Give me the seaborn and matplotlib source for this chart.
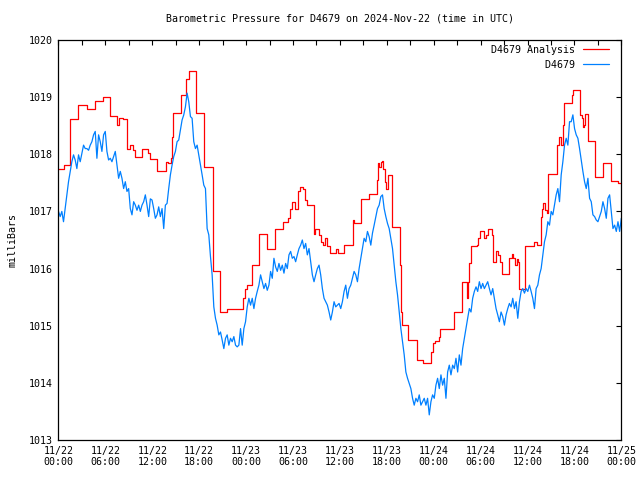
import pandas as pd
import matplotlib
matplotlib.use("Agg")
import matplotlib.pyplot as plt
import matplotlib.dates as mdates
import seaborn as sns

start = pd.Timestamp("2024-11-22 00:00")
end = pd.Timestamp("2024-11-25 00:00")

# analysis series (stepped): hours after start and pressure in mb
analysis_hours = [0.0, 0.70, 1.51, 2.54, 3.69, 4.67, 5.65, 6.63, 7.44, 7.74, 8.29, 8.72, 9.15,
                  9.49, 9.79, 10.72, 11.41, 11.70, 12.56, 13.71, 14.05, 14.35, 14.56, 14.69,
                  15.63, 16.31, 16.74, 17.55, 18.66, 19.72, 20.66, 21.60, 23.56, 23.86, 24.07,
                  24.71, 25.65, 26.63, 27.70, 28.68, 29.32, 29.61, 29.83, 30.25, 30.68, 30.89,
                  31.32, 31.53, 31.75, 32.68, 32.81, 33.32, 33.58, 33.79, 34.09, 34.30, 34.73,
                  35.46, 35.80, 36.52, 36.86, 37.72, 37.80, 38.65, 39.76, 40.70, 40.83, 41.04,
                  41.21, 41.38, 41.55, 41.77, 41.90, 42.11, 42.62, 43.69, 43.81, 43.94, 44.75,
                  45.82, 46.67, 47.69, 47.95, 48.16, 48.68, 48.80, 50.64, 51.66, 52.21, 52.43,
                  52.56, 52.73, 53.49, 53.71, 53.92, 54.43, 54.69, 54.99, 55.41, 55.63, 55.97,
                  56.27, 56.48, 56.69, 57.67, 57.97, 58.18, 58.40, 58.61, 58.82, 58.91, 59.68,
                  60.87, 61.17, 61.72, 61.89, 62.02, 62.24, 62.45, 62.58, 63.73, 64.07, 64.24,
                  64.58, 64.71, 65.65, 65.77, 66.71, 66.93, 67.05, 67.22, 67.35, 67.78, 68.63,
                  69.70, 70.68, 71.62, 72.0]
analysis_mb = [1017.74, 1017.82, 1018.61, 1018.86, 1018.80, 1018.93, 1019.01, 1018.67, 1018.52,
               1018.64, 1018.61, 1018.10, 1018.16, 1018.07, 1017.96, 1018.10, 1018.02, 1017.91,
               1017.70, 1017.87, 1017.84, 1017.94, 1018.31, 1018.73, 1019.03, 1019.32, 1019.46,
               1018.73, 1017.78, 1015.95, 1015.24, 1015.29, 1015.48, 1015.65, 1015.72, 1016.06,
               1016.60, 1016.35, 1016.69, 1016.82, 1016.89, 1017.05, 1017.17, 1017.04, 1017.36,
               1017.42, 1017.39, 1017.20, 1017.11, 1016.60, 1016.69, 1016.59, 1016.47, 1016.41,
               1016.53, 1016.40, 1016.27, 1016.35, 1016.27, 1016.41, 1016.42, 1016.85, 1016.79,
               1017.21, 1017.30, 1017.55, 1017.84, 1017.78, 1017.87, 1017.89, 1017.75, 1017.52,
               1017.40, 1017.63, 1016.72, 1016.06, 1015.24, 1015.02, 1014.75, 1014.40, 1014.34,
               1014.54, 1014.69, 1014.73, 1014.81, 1014.95, 1015.24, 1015.77, 1015.48, 1015.77,
               1016.09, 1016.40, 1016.41, 1016.54, 1016.65, 1016.53, 1016.59, 1016.69, 1016.59,
               1016.12, 1016.31, 1016.24, 1016.12, 1015.90, 1016.18, 1016.25, 1016.19, 1016.06,
               1016.17, 1016.12, 1015.65, 1016.40, 1016.47, 1016.41, 1016.91, 1017.05, 1017.14,
               1017.02, 1016.97, 1017.65, 1018.16, 1018.31, 1018.16, 1018.52, 1018.89, 1019.04,
               1019.12, 1018.69, 1018.63, 1018.48, 1018.51, 1018.70, 1018.23, 1017.61, 1017.84,
               1017.54, 1017.50, 1017.50]

# station observations, evenly spaced from 11/22 00:00 to 11/25 00:00
obs_mb = [
    1017.00, 1016.91, 1017.00, 1016.82, 1017.05, 1017.29, 1017.52, 1017.70, 1017.87, 1017.99,
    1017.90, 1017.75, 1017.99, 1017.87, 1018.02, 1018.16, 1018.10, 1018.10, 1018.07, 1018.16,
    1018.22, 1018.34, 1018.40, 1017.93, 1018.34, 1018.22, 1018.05, 1018.34, 1018.40, 1018.05,
    1017.90, 1017.93, 1017.87, 1017.96, 1018.05, 1017.81, 1017.58, 1017.70, 1017.58, 1017.40,
    1017.52, 1017.35, 1017.40, 1017.05, 1016.94, 1017.17, 1017.11, 1017.02, 1017.11, 1017.00,
    1017.11, 1017.17, 1017.29, 1017.11, 1016.91,
    1017.22, 1017.20, 1017.05, 1016.88, 1016.94, 1017.08, 1016.91, 1017.05, 1016.70, 1017.11,
    1017.14, 1017.40, 1017.64, 1017.81, 1017.96, 1018.05, 1018.22, 1018.25, 1018.42, 1018.60,
    1018.69, 1018.83, 1019.07, 1018.92, 1018.66, 1018.63, 1018.22, 1018.10, 1018.16, 1017.99,
    1017.81, 1017.64, 1017.46, 1017.40, 1016.70, 1016.59, 1016.21, 1015.89, 1015.33, 1015.13,
    1015.01, 1014.84, 1014.89, 1014.75, 1014.60, 1014.78, 1014.84, 1014.66, 1014.78, 1014.72,
    1014.81, 1014.66, 1014.63, 1014.66, 1014.95, 1014.66, 1014.95,
    1015.07, 1015.33, 1015.48, 1015.36, 1015.48, 1015.30, 1015.48, 1015.60, 1015.71, 1015.89,
    1015.77, 1015.65, 1015.74, 1015.62, 1015.71, 1015.95, 1015.83, 1016.18, 1016.03, 1015.95,
    1016.09, 1015.97, 1016.06, 1015.92, 1016.09, 1016.00, 1016.24, 1016.30, 1016.18, 1016.21,
    1016.12, 1016.24, 1016.35, 1016.41, 1016.50, 1016.35, 1016.44, 1016.24, 1016.35, 1016.12,
    1015.89, 1015.77, 1015.89, 1016.00, 1016.06, 1015.89, 1015.65, 1015.48, 1015.42, 1015.36,
    1015.24, 1015.10, 1015.24, 1015.42, 1015.33, 1015.36, 1015.39,
    1015.30, 1015.42, 1015.60, 1015.71, 1015.48, 1015.65, 1015.71, 1015.83, 1015.95, 1015.89,
    1015.77, 1016.00, 1016.18, 1016.35, 1016.53, 1016.47, 1016.65, 1016.56, 1016.41, 1016.62,
    1016.76, 1016.91, 1017.05, 1017.11, 1017.26, 1017.29, 1017.05, 1016.91, 1016.79, 1016.70,
    1016.53, 1016.35, 1016.06, 1015.77, 1015.54, 1015.24, 1014.95, 1014.72, 1014.49, 1014.19,
    1014.08, 1013.99, 1013.90, 1013.73, 1013.61, 1013.73, 1013.67, 1013.79, 1013.61, 1013.67,
    1013.73, 1013.61, 1013.73, 1013.44, 1013.67, 1013.79, 1013.73,
    1013.96, 1014.08, 1013.90, 1014.14, 1013.96, 1014.08, 1013.73, 1014.19, 1014.31, 1014.14,
    1014.31, 1014.25, 1014.43, 1014.19, 1014.49, 1014.31, 1014.60, 1014.78, 1014.95, 1015.13,
    1015.30, 1015.24, 1015.48, 1015.60, 1015.68, 1015.60, 1015.77, 1015.65, 1015.74, 1015.65,
    1015.71, 1015.77, 1015.65, 1015.54, 1015.65, 1015.48, 1015.30, 1015.19, 1015.07, 1015.24,
    1015.16, 1015.01, 1015.19, 1015.30, 1015.39, 1015.33, 1015.48, 1015.30, 1015.42, 1015.13,
    1015.42, 1015.60, 1015.65, 1015.57, 1015.65, 1015.60, 1015.71,
    1015.60, 1015.48, 1015.30, 1015.65, 1015.71, 1015.89, 1016.00, 1016.24, 1016.47, 1016.59,
    1016.82, 1016.76, 1017.00, 1016.94, 1017.11, 1017.29, 1017.40, 1017.17, 1017.64, 1017.87,
    1018.16, 1018.28, 1018.16, 1018.57, 1018.57, 1018.69, 1018.45, 1018.34, 1018.28, 1018.10,
    1017.90, 1017.70, 1017.52, 1017.40, 1017.58, 1017.23, 1017.17, 1016.94, 1016.91, 1016.85,
    1016.82, 1016.91, 1017.00, 1017.17, 1017.05, 1016.88, 1017.23, 1017.29, 1017.00, 1016.70,
    1016.76, 1016.65, 1016.82, 1016.65, 1016.88,
]

analysis_time = start + pd.to_timedelta(analysis_hours, unit="h")
obs_time = pd.date_range(start, end, periods=len(obs_mb))

sns.set_style("white")
plt.rcParams["font.family"] = ["DejaVu Sans Mono"]
plt.rcParams["font.size"] = 7.2
plt.rcParams["text.color"] = "black"
plt.rcParams["axes.labelcolor"] = "black"
plt.rcParams["xtick.color"] = "black"
plt.rcParams["ytick.color"] = "black"

fig = plt.figure(figsize=(6.4, 4.8), dpi=100)
ax = fig.add_axes([0.0914, 0.0833, 0.8794, 0.8334])

sns.lineplot(x=analysis_time, y=analysis_mb, ax=ax, color="#ff0000", linewidth=0.9,
             drawstyle="steps-post", label="D4679 Analysis")
sns.lineplot(x=obs_time, y=obs_mb, ax=ax, color="#0080ff", linewidth=0.9,
             label="         D4679")

ax.set_xlim(start, end)
ax.set_ylim(1013, 1020)
ax.set_yticks(range(1013, 1021))
ax.xaxis.set_major_locator(mdates.HourLocator(byhour=[0, 6, 12, 18]))
ax.xaxis.set_minor_locator(mdates.HourLocator(byhour=[3, 9, 15, 21]))
ax.xaxis.set_major_formatter(mdates.DateFormatter("%m/%d\n%H:%M"))
ax.tick_params(which="both", direction="in", length=3.6, width=0.8,
               top=True, right=True, colors="black", labelsize=7.2, pad=4)
for s in ax.spines.values():
    s.set_color("black")
    s.set_linewidth(0.9)

ax.set_title("Barometric Pressure for D4679 on 2024-Nov-22 (time in UTC)", fontsize=7.2, pad=13)
ax.set_ylabel("milliBars", fontsize=7.2, labelpad=8)
ax.set_xlabel("")

leg = ax.legend(loc="upper right", bbox_to_anchor=(0.991, 1.005), frameon=False,
                markerfirst=False, fontsize=7.2, handlelength=2.6, handletextpad=0.8,
                labelspacing=0.5, borderaxespad=0.3)

plt.savefig("out.png", dpi=100)
